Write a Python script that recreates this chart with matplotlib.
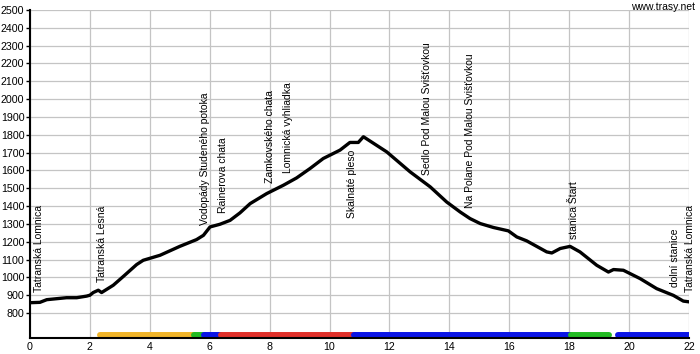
import matplotlib
matplotlib.use("Agg")
import matplotlib.pyplot as plt

plt.rcParams['font.family'] = ['Liberation Sans', 'DejaVu Sans']

# Elevation profile (km, m)
dist_km = [0.0, 0.33, 0.56, 1.22, 1.56, 1.89, 2.0, 2.11, 2.28, 2.39, 2.78, 3.12, 3.56, 3.78,
           4.34, 5.0, 5.56, 5.79, 6.01, 6.34, 6.68, 7.01, 7.35, 7.9, 8.46, 8.9, 9.35, 9.79,
           10.35, 10.68, 10.96, 11.13, 11.91, 12.69, 13.36, 13.91, 14.36, 14.69, 15.03, 15.47,
           15.97, 16.25, 16.58, 17.25, 17.42, 17.70, 18.03, 18.36, 18.92, 19.31, 19.48, 19.81,
           20.37, 20.92, 21.48, 21.81, 22.04]
elev_m = [858, 860, 875, 886, 886, 895, 900, 915, 928, 915, 956, 1006, 1072, 1096,
          1124, 1174, 1212, 1236, 1283, 1298, 1320, 1362, 1414, 1470, 1517, 1558, 1611, 1667,
          1714, 1757, 1757, 1789, 1704, 1592, 1508, 1423, 1367, 1330, 1302, 1280,
          1261, 1227, 1205, 1143, 1137, 1162, 1174, 1143, 1068, 1030, 1044, 1040,
          993, 937, 899, 867, 862]

# Trail colour segments (start km, end km, colour)
seg_start = [2.35, 5.47, 5.82, 6.38, 10.82, 18.05, 19.62]
seg_end = [5.47, 5.82, 6.38, 10.82, 18.05, 19.32, 22.0]
seg_color = ['#f0b429', '#22bb22', '#0a14e6', '#e0302a', '#0a14e6', '#22bb22', '#0a14e6']

# Point labels (text, km, anchor elevation, vertical alignment)
lbl_text = ['Tatranská Lomnica', 'Tatranská Lesná', 'Vodopády Studeného potoka', 'Rainerova chata',
            'Zamkovského chata', 'Lomnická vyhliadka', 'Skalnaté pleso',
            'Sedlo Pod Malou Svišťovkou', 'Na Polane Pod Malou Svišťovkou', 'stanica Štart',
            'dolní stanice', 'Tatranská Lomnica']
lbl_km = [0.3, 2.39, 5.84, 6.44, 8.01, 8.61, 10.74, 13.25, 14.69, 18.16, 21.53, 22.05]
lbl_elev = [916, 974, 1293, 1360, 1528, 1585, 1714, 1573, 1388, 1218, 946, 918]
lbl_va = ['bottom'] * 6 + ['top'] + ['bottom'] * 5

x_ticks = list(range(0, 23, 2))
y_ticks = list(range(800, 2501, 100))

fig = plt.figure(figsize=(7.0, 3.54), dpi=100)
ax = fig.add_axes([30 / 700, 1 - 338 / 354, 659 / 700, 328 / 354])

ax.set_xlim(0, 22)
ax.set_ylim(660, 2500)
ax.set_xticks(x_ticks)
ax.set_yticks(y_ticks)
ax.grid(True, color='#c4c4c4', linewidth=0.9)
ax.set_axisbelow(True)
for s in ['top', 'right']:
    ax.spines[s].set_visible(False)
for s in ['left', 'bottom']:
    ax.spines[s].set_linewidth(1.5)
    ax.spines[s].set_color('black')
ax.tick_params(axis='y', length=3, width=1, labelsize=7.7, pad=1)
ax.tick_params(axis='x', length=0, labelsize=7.7, pad=3)

ax.plot(dist_km, elev_m, color='black', linewidth=2.4, solid_joinstyle='round', zorder=3)

for a, b, c in zip(seg_start, seg_end, seg_color):
    ax.plot([a, b], [678, 678], color=c, linewidth=4.3, solid_capstyle='round', zorder=2)

for t, x, y, va in zip(lbl_text, lbl_km, lbl_elev, lbl_va):
    ax.text(x, y, t, rotation=90, ha='center', va=va, fontsize=7.5, clip_on=False, zorder=4)

fig.text(695 / 700, 1 - 7 / 354, 'www.trasy.net', ha='right', va='center', fontsize=7.5)

fig.savefig('out.png', dpi=100)
